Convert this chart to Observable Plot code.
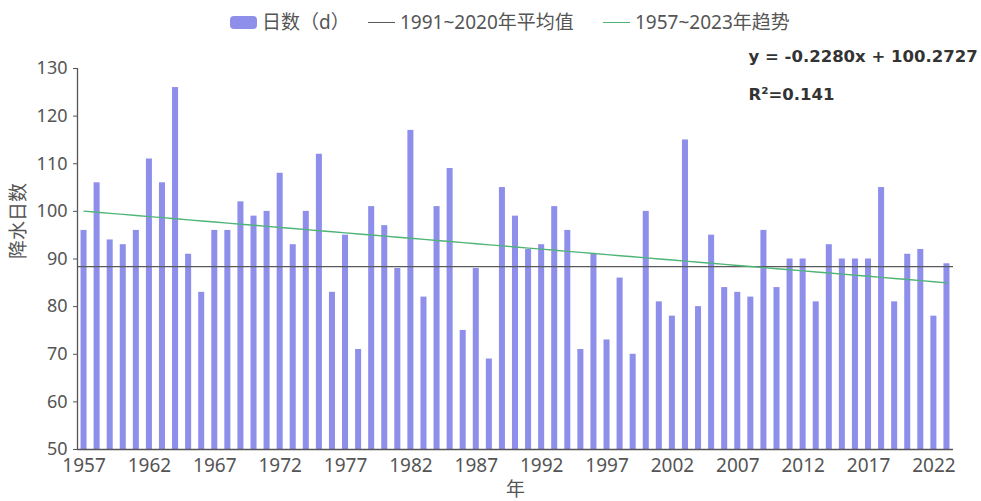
<!DOCTYPE html>
<html><head><meta charset="utf-8">
<script src="https://cdn.jsdelivr.net/npm/d3@7"></script>
<script src="https://cdn.jsdelivr.net/npm/@observablehq/plot@0.6"></script>
<style>
body{margin:0;background:#fff;font-family:"Noto Sans","Noto Sans CJK SC",sans-serif;}
#wrap{position:relative;width:981px;height:501px;overflow:hidden;}
#legend{position:absolute;left:0;top:0;width:981px;height:40px;font-size:19px;color:#555;white-space:nowrap;}
#legend span{position:absolute;top:9px;line-height:26px;}
#legend .sw{top:16px;width:27px;height:13px;border-radius:4px;background:#8e8eeb;}
#legend .ln{top:22px;width:27px;height:0;border-top:1.5px solid #555;}
#chart{position:absolute;left:0;top:40px;}
</style></head>
<body>
<div id="wrap">
  <div id="legend"></div>
  <div id="chart"></div>
</div>
<script>
const years = d3.range(1957, 2024);
const days = [96,106,94,93,96,111,106,126,91,83,96,96,102,99,100,108,93,100,112,83,
  95,71,101,97,88,117,82,101,109,75,88,69,105,99,92,93,101,96,71,91,
  73,86,70,100,81,78,115,80,95,84,83,82,96,84,90,90,81,93,90,90,
  90,105,81,91,92,78,89];
const xTicks = [1957,1962,1967,1972,1977,1982,1987,1992,1997,2002,2007,2012,2017,2022];
const yTicks = [50,60,70,80,90,100,110,120,130];
const slope = -0.2280, intercept = 100.2727, r2 = 0.141;
const seriesNames = ["日数（d）", "1991~2020年平均值", "1957~2023年趋势"];
const colors = {bar:"#8e8eeb", avg:"#5a5a5a", trend:"#4fb477"};
const yLabel = "降水日数", xLabel = "年";

const data = years.map((y, i) => ({year: y, days: days[i], trend: slope * (i + 1) + intercept}));
const avg = d3.mean(data.filter(d => d.year >= 1991 && d.year <= 2020), d => d.days);
const yMin = yTicks[0], yMax = yTicks[yTicks.length - 1];

const lg = document.getElementById("legend");
lg.innerHTML = `<span class="sw" style="left:230px"></span><span style="left:262px">${seriesNames[0]}</span>
<span class="ln" style="left:368px;border-color:${colors.avg}"></span><span style="left:400px">${seriesNames[1]}</span>
<span class="ln" style="left:603px;border-color:${colors.trend}"></span><span style="left:635px">${seriesNames[2]}</span>`;

const font = '"Noto Sans","Noto Sans CJK SC",sans-serif';
const eqFont = '"DejaVu Sans",sans-serif';
const plot = Plot.plot({
  width: 981, height: 461,
  marginLeft: 77, marginRight: 28, marginTop: 28, marginBottom: 52,
  style: {fontFamily: font, fontSize: "18px", color: "#555", background: "transparent"},
  x: {domain: [years[0] - 0.5, years[years.length - 1] + 0.5], label: null},
  y: {domain: [yMin, yMax], label: null},
  marks: [
    Plot.rectY(data, {x1: d => d.year - 0.23, x2: d => d.year + 0.23, y1: yMin, y2: "days", fill: colors.bar}),
    Plot.ruleY([avg], {stroke: colors.avg, strokeWidth: 1.2}),
    Plot.line(data, {x: "year", y: "trend", stroke: colors.trend, strokeWidth: 1.4}),
    Plot.ruleY([yMin], {stroke: "#555", strokeWidth: 1.3}),
    Plot.ruleX([years[0] - 0.5], {stroke: "#555", strokeWidth: 1.3}),
    Plot.axisX({ticks: xTicks, tickFormat: d => String(d), tickSize: 0, tickPadding: 9, fontSize: 19}),
    Plot.axisY({ticks: yTicks, tickSize: 4, tickPadding: 6, fontSize: 18}),
    Plot.text([yLabel], {frameAnchor: "left", rotate: -90, dx: -59, fontSize: 19, fill: "#555"}),
    Plot.text([xLabel], {frameAnchor: "bottom", dy: 46, fontSize: 19, fill: "#555"}),
    Plot.text([`y = ${slope.toFixed(4)}x + ${intercept.toFixed(4)}`], {frameAnchor: "top-right", textAnchor: "start", dx: -205, dy: -18, fontSize: 16.5, fontWeight: "bold", fill: "#333", fontFamily: eqFont}),
    Plot.text([`R²=${r2}`], {frameAnchor: "top-right", textAnchor: "start", dx: -205, dy: 20, fontSize: 16.5, fontWeight: "bold", fill: "#333", fontFamily: eqFont})
  ]
});
document.getElementById("chart").appendChild(plot);
</script>
</body></html>
